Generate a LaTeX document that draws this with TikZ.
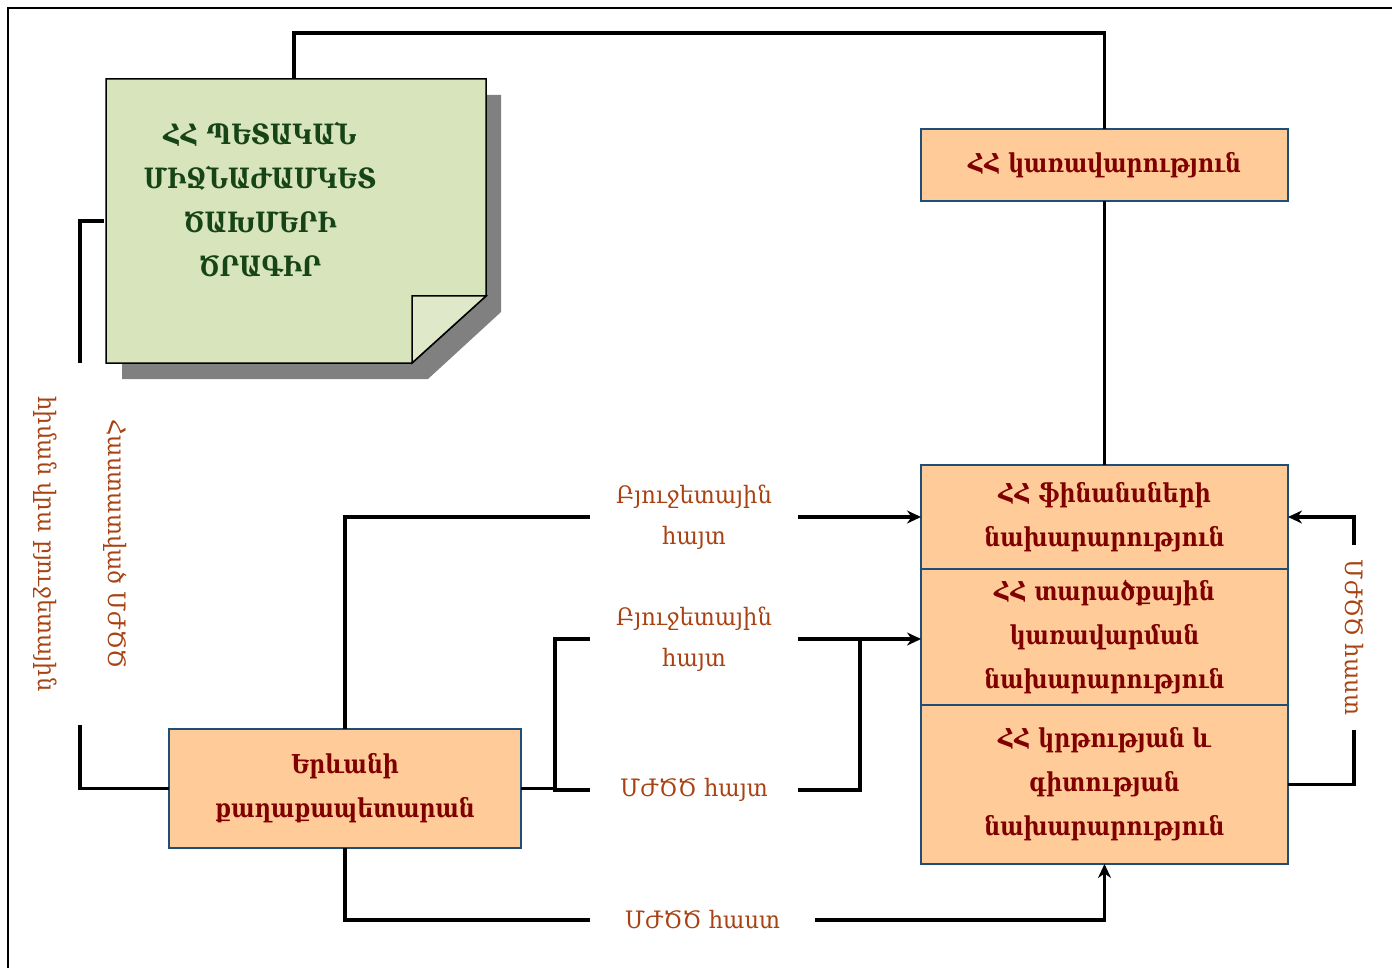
\documentclass[tikz,border=0pt]{standalone}
\usepackage{fontspec}
\setmainfont{DejaVu Serif}
\newfontfamily\boxfont[FakeStretch=0.85]{DejaVu Serif}
\newfontfamily\labfont[FakeStretch=0.94]{DejaVu Serif}
\usetikzlibrary{arrows.meta,positioning}
\definecolor{peach}{RGB}{255,204,153}
\definecolor{navy}{RGB}{31,78,121}
\definecolor{boxtext}{RGB}{128,0,0}
\definecolor{labtext}{RGB}{168,66,18}
\definecolor{notegreen}{RGB}{215,228,188}
\definecolor{notetext}{RGB}{22,68,22}
\definecolor{shadowgray}{RGB}{128,128,128}

\begin{document}
\begin{tikzpicture}[
  x=0.5pt, y=-0.5pt,
  box/.style={draw=navy, line width=0.75pt, fill=peach, minimum width=183.5pt, align=center, inner sep=2pt, outer sep=0pt, text=boxtext, font=\boxfont\fontsize{13}{22}\selectfont\bfseries},
  lab/.style={align=center, inner sep=0pt, text=labtext, font=\labfont\fontsize{12}{20.5}\selectfont},
  vlab/.style={lab, rotate=-90},
  link/.style={line width=1.6pt},
  arr/.style={link, -{Stealth[length=7pt, width=6.5pt]}},
  node distance=0pt
]
  \useasboundingbox (0,0) rectangle (1392,968);
  \draw[line width=0.7pt] (8,8) rectangle (1410,990);

  % sticky note with its shadow
  \fill[shadowgray] (122,95) -- (501,95) -- (501,312) -- (428,379) -- (122,379) -- cycle;
  \draw[line width=0.75pt, fill=notegreen] (106,79) -- (486,79) -- (486,296) -- (412,363) -- (106,363) -- cycle;
  \draw[line width=0.75pt, fill=notegreen!80!white] (412,363) -- (412,296) -- (486,296) -- cycle;
  \node[minimum width=190pt, minimum height=142pt, inner sep=0pt, outer sep=0pt] (note) at (294,221) {};
  \node[align=center, text=notetext, font=\boxfont\fontsize{14}{22}\selectfont\bfseries] (notetxt) at (260,199)
    {ՀՀ ՊԵՏԱԿԱՆ\\ ՄԻՋՆԱԺԱՄԿԵՏ\\ ԾԱԽՄԵՐԻ\\ ԾՐԱԳԻՐ};

  % government side
  \node[box, minimum height=36pt] (gov) at (1104.5,165) {ՀՀ կառավարություն};
  \node[box, minimum height=52pt] (fin) at (1104.5,517) {ՀՀ ֆինանսների\\ նախարարություն};
  \node[box, minimum height=68pt, below=of fin] (ter) {ՀՀ տարածքային\\ կառավարման\\ նախարարություն};
  \node[box, minimum height=79.5pt, below=of ter] (edu) {ՀՀ կրթության և\\ գիտության\\ նախարարություն};

  % city hall
  \node[box, minimum width=176pt, minimum height=59.5pt] (yer) at (345,788.5) {Երևանի\\ քաղաքապետարան};

  % labels on the flows
  \node[lab, minimum width=104pt] (b1) at (694,517) {Բյուջետային\\ հայտ};
  \node[lab, minimum width=104pt] (b2) at (694,639) {Բյուջետային\\ հայտ};
  \node[lab, minimum width=104pt] (b3) at (694,790) {ՄԺԾԾ հայտ};
  \node[lab, minimum width=112.5pt] (b4) at (702.5,920) {ՄԺԾԾ հաստ};
  \node[vlab, minimum width=92.5pt] (rlab) at (1354,637.5) {ՄԺԾԾ հաստ};
  \node[vlab, minimum width=181pt, font=\labfont\fontsize{12}{35}\selectfont] (llab) at (80,544) {Հաստատված ՄԺԾԾ\\ հիման վրա բյուջետային};

  \coordinate (jl) at (555,789);
  \coordinate (jr) at (860,639);

  \draw[link] (note.north) -- ++(0,-46) -| (gov.north);
  \draw[link] (gov.south) -- (fin.north);
  \draw[link] (note.west) -| (llab.west);
  \draw[link] (llab.east) |- (yer.west);
  \draw[link] (yer.north) |- (b1.west);
  \draw[arr] (b1.east) -- (fin.west);
  \draw[link] (yer.east) -| (jl) |- (b3.west);
  \draw[link] (jl) |- (b2.west);
  \draw[arr] (b2.east) -- (ter.west |- b2.east);
  \draw[link] (b3.east) -| (jr);
  \draw[link] (yer.south) |- (b4.west);
  \draw[arr] (b4.east) -| (edu.south);
  \draw[link] (edu.east) -| (rlab.east);
  \draw[arr] (rlab.west) |- (fin.east);
\end{tikzpicture}
\end{document}
